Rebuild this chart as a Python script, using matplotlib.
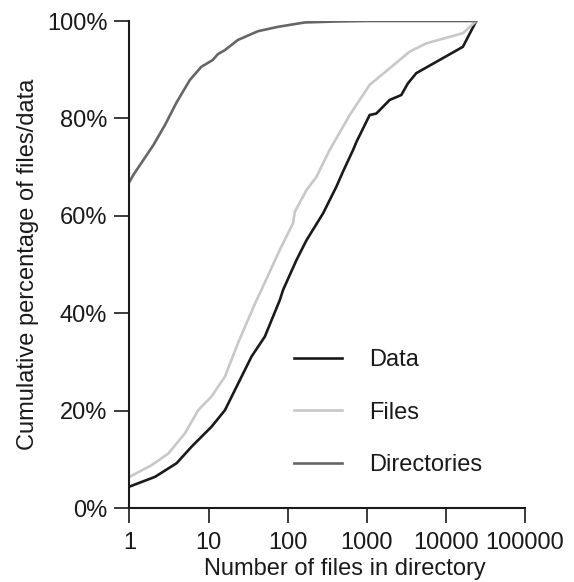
import numpy as np
import matplotlib
matplotlib.use('Agg')
import matplotlib.pyplot as plt
from matplotlib.ticker import FixedLocator, FuncFormatter, NullLocator

plt.rcParams['font.family'] = ['Liberation Sans', 'DejaVu Sans']

# cumulative share (%) vs number of files in a directory
data_x = [1, 2.1, 3.94, 6.1, 10.9, 16.1, 23.7, 34.9, 51.4, 79.5, 87.5, 129, 173, 280,
          413, 501, 670, 741, 1088, 1320, 1950, 2730, 3310, 4230, 16400, 24200]
data_y = [4.4, 6.4, 9.2, 12.6, 16.7, 20.1, 25.6, 31.1, 35.2, 42.7, 44.8, 50.9, 55.0, 60.5,
          66.0, 69.1, 73.5, 75.2, 80.7, 81.0, 83.8, 84.8, 87.2, 89.3, 94.7, 100]

files_x = [1, 1.9, 3.1, 5.0, 7.4, 10.9, 16.1, 19, 23.7, 40.4, 44.5, 79.5, 117, 123, 173,
           231, 339, 608, 1088, 1950, 3470, 5640, 16400, 24200]
files_y = [6.4, 8.8, 11.2, 15.3, 20.1, 22.9, 27.0, 30.0, 34.0, 42.7, 44.1, 53.0, 58.5, 60.8,
           65.3, 68.0, 73.5, 80.7, 86.9, 90.3, 93.7, 95.4, 97.5, 100]

dirs_x = [1, 1.14, 2, 2.8, 3.94, 5.8, 8.1, 11.3, 13.1, 16, 23.4, 42, 75, 164, 400, 1000, 24200]
dirs_y = [67, 68.6, 74.5, 78.6, 83.3, 87.9, 90.6, 92.0, 93.2, 94.0, 96.1, 97.9, 98.8, 99.7,
          99.9, 100, 100]

x_ticks = [1, 10, 100, 1000, 10000, 100000]
y_ticks = [0, 20, 40, 60, 80, 100]

fs = 17
ink = '#1a1a1a'

fig = plt.figure(figsize=(5.74, 5.82), dpi=100)
ax = fig.add_axes([0.2256, 0.1271, 0.689, 0.8368])

lw = 1.9
ax.plot(data_x, data_y, color=ink, lw=lw, label='Data')
ax.plot(files_x, files_y, color='#c8c8c8', lw=lw, label='Files')
ax.plot(dirs_x, dirs_y, color='#666666', lw=lw, label='Directories')

ax.set_xscale('log')
ax.set_xlim(1, 100000)
ax.set_ylim(0, 100)
ax.xaxis.set_major_locator(FixedLocator(x_ticks))
ax.xaxis.set_minor_locator(NullLocator())
ax.xaxis.set_major_formatter(FuncFormatter(lambda v, p: '%d' % v))
ax.set_yticks(y_ticks)
ax.yaxis.set_major_formatter(FuncFormatter(lambda v, p: '%d%%' % v))

for s in ['top', 'right']:
    ax.spines[s].set_visible(False)
for s in ['left', 'bottom']:
    ax.spines[s].set_linewidth(1.5)
    ax.spines[s].set_color(ink)
    ax.spines[s].set_clip_on(False)

ax.tick_params(direction='out', length=11, width=1.2, color=ink,
               labelsize=fs, labelcolor=ink)
ax.tick_params(axis='y', pad=5)
ax.tick_params(axis='x', pad=6)

ax.set_xlabel('Number of files in directory', fontsize=fs, color=ink)
ax.set_ylabel('Cumulative percentage of files/data', fontsize=fs, color=ink)
ax.xaxis.set_label_coords(0.544, -0.103)
ax.yaxis.set_label_coords(-0.228, 0.5)

ax.legend(loc='center left', bbox_to_anchor=(0.416, 0.196), frameon=False,
          fontsize=fs, handlelength=2.03, handletextpad=1.14, labelspacing=1.28,
          borderpad=0, borderaxespad=0, labelcolor=ink)

fig.savefig('out.png', dpi=100)
